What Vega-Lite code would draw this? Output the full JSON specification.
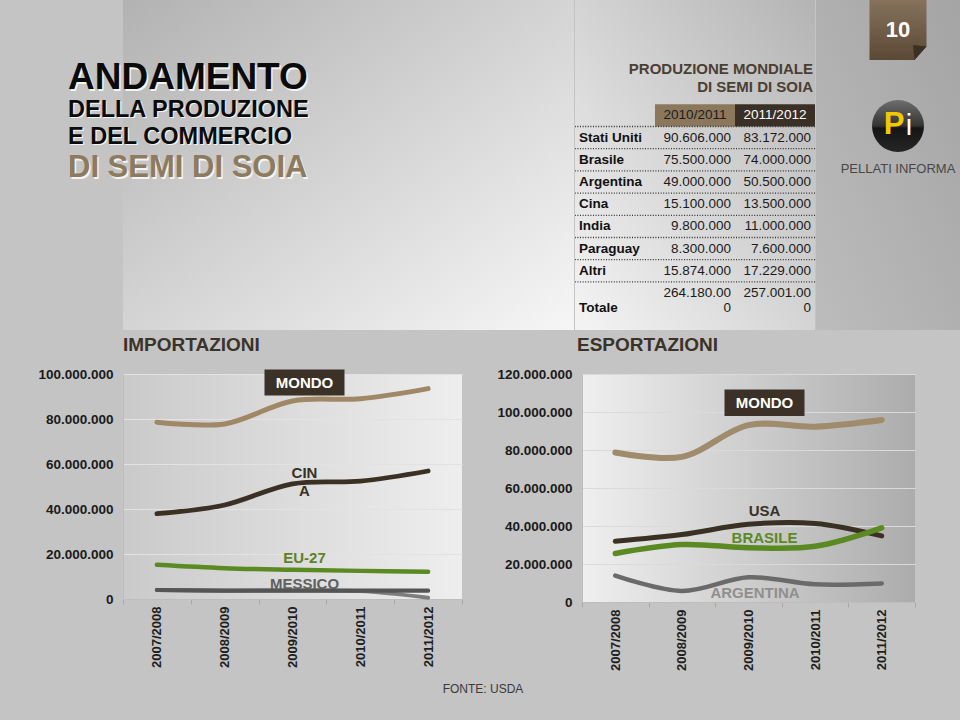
{
  "$schema": "https://vega.github.io/schema/vega-lite/v6.json",
  "background": "#c4c4c4",
  "padding": {"left": 37, "top": 0, "right": 0, "bottom": 30},
  "title": {"text": "FONTE: USDA", "orient": "bottom", "anchor": "middle", "fontSize": 12, "fontWeight": "normal", "color": "#3a3a3a", "offset": 14, "dx": -17},
  "config": {
    "font": "Liberation Sans",
    "view": {"stroke": null},
    "locale": {"number": {"decimal": ",", "thousands": ".", "grouping": [3], "currency": ["€", ""]}},
    "axis": {"labelFont": "Liberation Sans"},
    "title": {"font": "Liberation Sans"}
  },
  "datasets": {
    "titolo": [
      {"testo": "ANDAMENTO"},
      {"testo": "DELLA PRODUZIONE"},
      {"testo": "E DEL COMMERCIO"},
      {"testo": "DI SEMI DI SOIA"}
    ],
    "anni": [{"anno": "2010/2011"}, {"anno": "2011/2012"}],
    "intestazione": [{"titolo": "PRODUZIONE MONDIALE\nDI SEMI DI SOIA"}],
    "produzione": [
      {"paese": "Stati Uniti", "anno": "2010/2011", "valore": 90606000},
      {"paese": "Stati Uniti", "anno": "2011/2012", "valore": 83172000},
      {"paese": "Brasile", "anno": "2010/2011", "valore": 75500000},
      {"paese": "Brasile", "anno": "2011/2012", "valore": 74000000},
      {"paese": "Argentina", "anno": "2010/2011", "valore": 49000000},
      {"paese": "Argentina", "anno": "2011/2012", "valore": 50500000},
      {"paese": "Cina", "anno": "2010/2011", "valore": 15100000},
      {"paese": "Cina", "anno": "2011/2012", "valore": 13500000},
      {"paese": "India", "anno": "2010/2011", "valore": 9800000},
      {"paese": "India", "anno": "2011/2012", "valore": 11000000},
      {"paese": "Paraguay", "anno": "2010/2011", "valore": 8300000},
      {"paese": "Paraguay", "anno": "2011/2012", "valore": 7600000},
      {"paese": "Altri", "anno": "2010/2011", "valore": 15874000},
      {"paese": "Altri", "anno": "2011/2012", "valore": 17229000},
      {"paese": "Totale", "anno": "2010/2011", "valore": 264180000},
      {"paese": "Totale", "anno": "2011/2012", "valore": 257001000}
    ],
    "logo": [
      {"elemento": "pagina", "testo": "10"},
      {"elemento": "logo", "testo": "P"},
      {"elemento": "logo", "testo": "i"},
      {"elemento": "marchio", "testo": "PELLATI INFORMA"}
    ],
    "importazioni": [
      {"serie": "ALTRI", "anno": "2007/2008", "valore": 4000000},
      {"serie": "ALTRI", "anno": "2008/2009", "valore": 3700000},
      {"serie": "ALTRI", "anno": "2009/2010", "valore": 3800000},
      {"serie": "ALTRI", "anno": "2010/2011", "valore": 3500000},
      {"serie": "ALTRI", "anno": "2011/2012", "valore": 600000},
      {"serie": "MESSICO", "anno": "2007/2008", "valore": 4000000},
      {"serie": "MESSICO", "anno": "2008/2009", "valore": 3700000},
      {"serie": "MESSICO", "anno": "2009/2010", "valore": 3700000},
      {"serie": "MESSICO", "anno": "2010/2011", "valore": 3700000},
      {"serie": "MESSICO", "anno": "2011/2012", "valore": 3700000},
      {"serie": "EU-27", "anno": "2007/2008", "valore": 15200000},
      {"serie": "EU-27", "anno": "2008/2009", "valore": 13700000},
      {"serie": "EU-27", "anno": "2009/2010", "valore": 13000000},
      {"serie": "EU-27", "anno": "2010/2011", "valore": 12500000},
      {"serie": "EU-27", "anno": "2011/2012", "valore": 12100000},
      {"serie": "CINA", "anno": "2007/2008", "valore": 37900000},
      {"serie": "CINA", "anno": "2008/2009", "valore": 41800000},
      {"serie": "CINA", "anno": "2009/2010", "valore": 51200000},
      {"serie": "CINA", "anno": "2010/2011", "valore": 52400000},
      {"serie": "CINA", "anno": "2011/2012", "valore": 56900000},
      {"serie": "MONDO", "anno": "2007/2008", "valore": 78600000},
      {"serie": "MONDO", "anno": "2008/2009", "valore": 77800000},
      {"serie": "MONDO", "anno": "2009/2010", "valore": 88000000},
      {"serie": "MONDO", "anno": "2010/2011", "valore": 89000000},
      {"serie": "MONDO", "anno": "2011/2012", "valore": 93500000}
    ],
    "esportazioni": [
      {"serie": "ARGENTINA", "anno": "2007/2008", "valore": 13900000},
      {"serie": "ARGENTINA", "anno": "2008/2009", "valore": 5800000},
      {"serie": "ARGENTINA", "anno": "2009/2010", "valore": 13000000},
      {"serie": "ARGENTINA", "anno": "2010/2011", "valore": 9300000},
      {"serie": "ARGENTINA", "anno": "2011/2012", "valore": 9800000},
      {"serie": "USA", "anno": "2007/2008", "valore": 32000000},
      {"serie": "USA", "anno": "2008/2009", "valore": 35500000},
      {"serie": "USA", "anno": "2009/2010", "valore": 40900000},
      {"serie": "USA", "anno": "2010/2011", "valore": 41300000},
      {"serie": "USA", "anno": "2011/2012", "valore": 34800000},
      {"serie": "BRASILE", "anno": "2007/2008", "valore": 25500000},
      {"serie": "BRASILE", "anno": "2008/2009", "valore": 30200000},
      {"serie": "BRASILE", "anno": "2009/2010", "valore": 28600000},
      {"serie": "BRASILE", "anno": "2010/2011", "valore": 29300000},
      {"serie": "BRASILE", "anno": "2011/2012", "valore": 39000000},
      {"serie": "MONDO", "anno": "2007/2008", "valore": 78700000},
      {"serie": "MONDO", "anno": "2008/2009", "valore": 76400000},
      {"serie": "MONDO", "anno": "2009/2010", "valore": 93100000},
      {"serie": "MONDO", "anno": "2010/2011", "valore": 92300000},
      {"serie": "MONDO", "anno": "2011/2012", "valore": 95800000}
    ]
  },
  "columns": 1,
  "align": "none",
  "spacing": 6,
  "resolve": {"scale": {"color": "independent", "fill": "independent", "strokeWidth": "independent"}},
  "concat": [
    {
      "spacing": 0,
      "resolve": {"scale": {"color": "independent", "fill": "independent", "strokeWidth": "independent"}},
      "hconcat": [
        {
          "width": 451,
          "height": 330,
          "view": {"stroke": null, "fill": {"gradient": "linear", "x1": 0, "y1": 0, "x2": 1, "y2": 1, "stops": [{"offset": 0, "color": "#b2b2b2"}, {"offset": 1, "color": "#f6f6f6"}]}},
          "data": {"name": "titolo"},
          "encoding": {
            "x": {"datum": "titolo", "type": "nominal", "scale": {"type": "point", "range": [-55, 451], "padding": 0, "align": 0}, "axis": null},
            "y": {"field": "testo", "type": "nominal", "scale": {"type": "point", "domain": ["ANDAMENTO", "DELLA PRODUZIONE", "E DEL COMMERCIO", "DI SEMI DI SOIA"], "range": [89.3, 171.35], "padding": 0}, "axis": null},
            "text": {"field": "testo", "type": "nominal"}
          },
          "layer": [
            {"transform": [{"filter": "datum.testo === 'ANDAMENTO'"}], "mark": {"type": "text", "align": "left", "baseline": "alphabetic", "fontSize": 37, "fontWeight": "bold", "color": "#f4f4f4", "dx": 1.5, "dy": 1.5}},
            {"transform": [{"filter": "datum.testo === 'ANDAMENTO'"}], "mark": {"type": "text", "align": "left", "baseline": "alphabetic", "fontSize": 37, "fontWeight": "bold", "color": "#0b0b0b"}},
            {"transform": [{"filter": "datum.testo === 'DELLA PRODUZIONE' || datum.testo === 'E DEL COMMERCIO'"}], "mark": {"type": "text", "align": "left", "baseline": "alphabetic", "fontSize": 23.5, "fontWeight": "bold", "color": "#f4f4f4", "dx": 1.2, "dy": 1.2}},
            {"transform": [{"filter": "datum.testo === 'DELLA PRODUZIONE' || datum.testo === 'E DEL COMMERCIO'"}], "mark": {"type": "text", "align": "left", "baseline": "alphabetic", "fontSize": 23.5, "fontWeight": "bold", "color": "#0b0b0b"}},
            {"transform": [{"filter": "datum.testo === 'DI SEMI DI SOIA'"}], "mark": {"type": "text", "align": "left", "baseline": "alphabetic", "fontSize": 31, "fontWeight": "bold", "color": "#f4f4f4", "dx": 1.5, "dy": 7.5}},
            {"transform": [{"filter": "datum.testo === 'DI SEMI DI SOIA'"}], "mark": {"type": "text", "align": "left", "baseline": "alphabetic", "fontSize": 31, "fontWeight": "bold", "color": "#8d7b60", "dy": 6}}
          ]
        },
        {
          "width": 240,
          "height": 330,
          "view": {"stroke": null, "fill": {"gradient": "linear", "x1": 1, "y1": 0, "x2": 0, "y2": 1, "stops": [{"offset": 0, "color": "#b4b4b4"}, {"offset": 1, "color": "#f4f4f4"}]}},
          "layer": [
            {
              "data": {"name": "anni"},
              "mark": {"type": "rect"},
              "encoding": {
                "x": {"field": "anno", "type": "nominal", "scale": {"type": "band", "domain": ["Paese", "2010/2011", "2011/2012"], "paddingInner": 0, "paddingOuter": 0}, "axis": null},
                "y": {"datum": "intestazione", "type": "nominal", "scale": {"type": "band", "domain": ["intestazione", "Stati Uniti", "Brasile", "Argentina", "Cina", "India", "Paraguay", "Altri", "Totale"], "range": [104.3, 304.1], "paddingInner": 0, "paddingOuter": 0}, "axis": null},
                "fill": {"field": "anno", "type": "nominal", "scale": {"domain": ["2010/2011", "2011/2012"], "range": ["#8b785c", "#3a3026"]}, "legend": null}
              }
            },
            {
              "data": {"name": "anni"},
              "mark": {"type": "text", "fontSize": 13.5, "baseline": "middle"},
              "encoding": {
                "x": {"field": "anno", "type": "nominal", "scale": {"type": "band", "domain": ["Paese", "2010/2011", "2011/2012"], "paddingInner": 0, "paddingOuter": 0}, "axis": null},
                "y": {"datum": "intestazione", "type": "nominal", "scale": {"type": "band", "domain": ["intestazione", "Stati Uniti", "Brasile", "Argentina", "Cina", "India", "Paraguay", "Altri", "Totale"], "range": [104.3, 304.1], "paddingInner": 0, "paddingOuter": 0}, "axis": null},
                "text": {"field": "anno", "type": "nominal"},
                "color": {"field": "anno", "type": "nominal", "scale": {"domain": ["2010/2011", "2011/2012"], "range": ["#1c1c1c", "#ffffff"]}, "legend": null}
              }
            },
            {
              "data": {"name": "intestazione"},
              "mark": {"type": "text", "fontSize": 15, "fontWeight": "bold", "color": "#4a3f33", "align": "right", "baseline": "alphabetic", "lineBreak": "\n", "lineHeight": 17.7, "dx": -2, "dy": -30.3},
              "encoding": {
                "x": {"datum": "2011/2012", "type": "nominal", "bandPosition": 1, "scale": {"type": "band", "domain": ["Paese", "2010/2011", "2011/2012"], "paddingInner": 0, "paddingOuter": 0}, "axis": null},
                "y": {"datum": "intestazione", "type": "nominal", "bandPosition": 0, "scale": {"type": "band", "domain": ["intestazione", "Stati Uniti", "Brasile", "Argentina", "Cina", "India", "Paraguay", "Altri", "Totale"], "range": [104.3, 304.1], "paddingInner": 0, "paddingOuter": 0}, "axis": null},
                "text": {"field": "titolo", "type": "nominal"}
              }
            },
            {
              "data": {"name": "produzione"},
              "transform": [{"filter": "datum.anno === '2010/2011'"}],
              "mark": {"type": "rule", "strokeDash": [1, 1.6], "color": "#333333", "strokeWidth": 1.3},
              "encoding": {
                "y": {"field": "paese", "type": "nominal", "bandPosition": 0, "scale": {"type": "band", "domain": ["intestazione", "Stati Uniti", "Brasile", "Argentina", "Cina", "India", "Paraguay", "Altri", "Totale"], "range": [104.3, 304.1], "paddingInner": 0, "paddingOuter": 0}, "axis": null}
              }
            },
            {
              "data": {"name": "produzione"},
              "transform": [{"filter": "datum.anno === '2010/2011' && datum.paese !== 'Totale'"}],
              "mark": {"type": "text", "fontSize": 13.5, "fontWeight": "bold", "color": "#111111", "align": "left", "baseline": "middle", "dx": 4},
              "encoding": {
                "x": {"datum": "Paese", "type": "nominal", "bandPosition": 0, "scale": {"type": "band", "domain": ["Paese", "2010/2011", "2011/2012"], "paddingInner": 0, "paddingOuter": 0}, "axis": null},
                "y": {"field": "paese", "type": "nominal", "scale": {"type": "band", "domain": ["intestazione", "Stati Uniti", "Brasile", "Argentina", "Cina", "India", "Paraguay", "Altri", "Totale"], "range": [104.3, 304.1], "paddingInner": 0, "paddingOuter": 0}, "axis": null},
                "text": {"field": "paese", "type": "nominal"}
              }
            },
            {
              "data": {"name": "produzione"},
              "transform": [{"filter": "datum.paese !== 'Totale'"}],
              "mark": {"type": "text", "fontSize": 13.5, "color": "#1a1a1a", "align": "right", "baseline": "middle", "dx": -4},
              "encoding": {
                "x": {"field": "anno", "type": "nominal", "bandPosition": 1, "scale": {"type": "band", "domain": ["Paese", "2010/2011", "2011/2012"], "paddingInner": 0, "paddingOuter": 0}, "axis": null},
                "y": {"field": "paese", "type": "nominal", "scale": {"type": "band", "domain": ["intestazione", "Stati Uniti", "Brasile", "Argentina", "Cina", "India", "Paraguay", "Altri", "Totale"], "range": [104.3, 304.1], "paddingInner": 0, "paddingOuter": 0}, "axis": null},
                "text": {"field": "valore", "type": "quantitative", "format": ",d"}
              }
            },
            {
              "data": {"name": "produzione"},
              "transform": [{"filter": "datum.paese === 'Totale' && datum.anno === '2010/2011'"}],
              "mark": {"type": "text", "fontSize": 13.5, "fontWeight": "bold", "color": "#111111", "align": "left", "baseline": "alphabetic", "dx": 4, "dy": 18.8},
              "encoding": {
                "x": {"datum": "Paese", "type": "nominal", "bandPosition": 0, "scale": {"type": "band", "domain": ["Paese", "2010/2011", "2011/2012"], "paddingInner": 0, "paddingOuter": 0}, "axis": null},
                "y": {"field": "paese", "type": "nominal", "scale": {"type": "band", "domain": ["intestazione", "Stati Uniti", "Brasile", "Argentina", "Cina", "India", "Paraguay", "Altri", "Totale"], "range": [104.3, 304.1], "paddingInner": 0, "paddingOuter": 0}, "axis": null},
                "text": {"field": "paese", "type": "nominal"}
              }
            },
            {
              "data": {"name": "produzione"},
              "transform": [
                {"filter": "datum.paese === 'Totale'"},
                {"calculate": "replace(format(datum.valore, ',d'), regexp(',', 'g'), '.')", "as": "cifra"},
                {"calculate": "[substring(datum.cifra, 0, 10), substring(datum.cifra, 10)]", "as": "righe"}
              ],
              "mark": {"type": "text", "fontSize": 13.5, "color": "#1a1a1a", "align": "right", "baseline": "alphabetic", "lineHeight": 15.3, "dx": -4, "dy": 3.6},
              "encoding": {
                "x": {"field": "anno", "type": "nominal", "bandPosition": 1, "scale": {"type": "band", "domain": ["Paese", "2010/2011", "2011/2012"], "paddingInner": 0, "paddingOuter": 0}, "axis": null},
                "y": {"field": "paese", "type": "nominal", "scale": {"type": "band", "domain": ["intestazione", "Stati Uniti", "Brasile", "Argentina", "Cina", "India", "Paraguay", "Altri", "Totale"], "range": [104.3, 304.1], "paddingInner": 0, "paddingOuter": 0}, "axis": null},
                "text": {"field": "righe"}
              }
            }
          ]
        },
        {
          "width": 146,
          "height": 330,
          "view": {"stroke": null, "fill": {"gradient": "linear", "x1": 0, "y1": 1, "x2": 1, "y2": 0, "stops": [{"offset": 0, "color": "#bcbcbc"}, {"offset": 1, "color": "#a4a4a4"}]}},
          "data": {"name": "logo"},
          "encoding": {
            "x": {"datum": "logo", "type": "nominal", "scale": {"type": "point", "range": [82, 146], "padding": 0, "align": 0}, "axis": null},
            "y": {"field": "elemento", "type": "nominal", "scale": {"type": "point", "domain": ["pagina", "spazio", "logo", "marchio"], "range": [30, 174], "padding": 0}, "axis": null}
          },
          "layer": [
            {"transform": [{"filter": "datum.elemento === 'pagina'"}], "mark": {"type": "point", "shape": "M-0.95,-1H0.95V0.55L0.55,1H-0.95Z", "size": 3600, "filled": true, "opacity": 1, "strokeWidth": 0, "fill": {"gradient": "linear", "x1": 0, "y1": 0, "x2": 0, "y2": 1, "stops": [{"offset": 0, "color": "#86725b"}, {"offset": 1, "color": "#5a4936"}]}}},
            {"transform": [{"filter": "datum.elemento === 'pagina'"}], "mark": {"type": "point", "shape": "M0.95,0.55L0.55,1L0.5,0.5Z", "size": 3600, "filled": true, "opacity": 1, "strokeWidth": 0, "fill": "#3c3022"}},
            {"transform": [{"filter": "datum.elemento === 'pagina'"}], "mark": {"type": "text", "fontSize": 22, "fontWeight": "bold", "color": "#ffffff", "baseline": "middle"}, "encoding": {"text": {"field": "testo"}}},
            {"transform": [{"filter": "datum.testo === 'P'"}], "mark": {"type": "point", "shape": "circle", "size": 2704, "filled": true, "opacity": 1, "strokeWidth": 0, "fill": {"gradient": "linear", "x1": 0, "y1": 0, "x2": 0, "y2": 1, "stops": [{"offset": 0, "color": "#6e6e6e"}, {"offset": 0.5, "color": "#333333"}, {"offset": 0.54, "color": "#151515"}, {"offset": 1, "color": "#262626"}]}}},
            {"transform": [{"filter": "datum.testo === 'P'"}], "mark": {"type": "text", "fontSize": 31, "fontWeight": "bold", "color": "#f2c900", "baseline": "alphabetic", "dx": -4, "dy": 7.5}, "encoding": {"text": {"field": "testo"}}},
            {"transform": [{"filter": "datum.testo === 'i'"}], "mark": {"type": "text", "fontSize": 29, "color": "#ffffff", "baseline": "alphabetic", "dx": 11, "dy": 8.5}, "encoding": {"text": {"field": "testo"}}},
            {"transform": [{"filter": "datum.elemento === 'marchio'"}], "mark": {"type": "text", "fontSize": 13, "color": "#474747", "baseline": "middle", "dy": -5.4}, "encoding": {"text": {"field": "testo"}}}
          ]
        }
      ]
    },
    {
      "spacing": 33,
      "resolve": {"scale": {"color": "independent", "fill": "independent", "strokeWidth": "independent"}},
      "hconcat": [
        {
          "width": 339,
          "height": 225,
          "view": {"stroke": null, "fill": {"gradient": "linear", "x1": 0, "y1": 0, "x2": 1, "y2": 0, "stops": [{"offset": 0, "color": "#cacaca"}, {"offset": 1, "color": "#eeeeee"}]}},
          "title": {"text": "IMPORTAZIONI", "anchor": "start", "frame": "group", "fontSize": 19, "fontWeight": "bold", "color": "#3b3329", "offset": 12},
          "data": {"name": "importazioni"},
          "encoding": {
            "x": {"field": "anno", "type": "nominal", "scale": {"domain": ["2007/2008", "2008/2009", "2009/2010", "2010/2011", "2011/2012"], "paddingInner": 0, "paddingOuter": 0},
              "axis": {"title": null, "labelAngle": -90, "labelFontSize": 13, "labelFontWeight": "bold", "labelColor": "#1e1e1e", "labelPadding": 2, "tickBand": "extent", "tickSize": 5, "tickColor": "#a8a8a8", "domainColor": "#bdbdbd", "grid": false}},
            "y": {"field": "valore", "type": "quantitative", "scale": {"domain": [0, 100000000], "nice": false},
              "axis": {"title": null, "values": [0, 20000000, 40000000, 60000000, 80000000, 100000000], "format": ",d", "labelFontSize": 13.5, "labelFontWeight": "bold", "labelColor": "#1a1a1a", "ticks": false, "labelPadding": 10, "domainColor": "#bdbdbd", "gridColor": "#e2e2e2", "grid": true}}
          },
          "layer": [
            {"transform": [{"filter": "datum.serie === 'MESSICO' && datum.anno === '2009/2010'"}], "mark": {"type": "text", "fontSize": 15, "fontWeight": "bold", "color": "#606060", "baseline": "middle", "dx": 12, "dy": -6.7}, "encoding": {"text": {"field": "serie"}}},
            {"mark": {"type": "line", "interpolate": "catmull-rom", "strokeCap": "round", "strokeJoin": "round"},
              "encoding": {
                "color": {"field": "serie", "type": "nominal", "scale": {"domain": ["ALTRI", "MESSICO", "EU-27", "CINA", "MONDO"], "range": ["#7d7d7d", "#555555", "#5b8a22", "#3b3024", "#a08867"]}, "legend": null},
                "strokeWidth": {"field": "serie", "type": "nominal", "scale": {"domain": ["ALTRI", "MESSICO", "EU-27", "CINA", "MONDO"], "range": [4, 5, 4.5, 7, 6.5]}, "legend": null}
              }},
            {"transform": [{"filter": "datum.serie === 'MONDO' && datum.anno === '2009/2010'"}], "mark": {"type": "point", "shape": "M-1,-0.325H1V0.325H-1Z", "size": 6400, "filled": true, "opacity": 1, "strokeWidth": 0, "fill": "#3b3127", "xOffset": 12, "yOffset": -18.5}},
            {"transform": [{"filter": "datum.serie === 'MONDO' && datum.anno === '2009/2010'"}], "mark": {"type": "text", "fontSize": 15, "fontWeight": "bold", "color": "#ffffff", "baseline": "middle", "dx": 12, "dy": -18.5}, "encoding": {"text": {"field": "serie"}}},
            {"transform": [{"filter": "datum.serie === 'CINA' && datum.anno === '2009/2010'"}, {"calculate": "[substring(datum.serie, 0, 3), substring(datum.serie, 3)]", "as": "etichetta"}], "mark": {"type": "text", "fontSize": 15, "fontWeight": "bold", "color": "#3b3024", "baseline": "middle", "lineHeight": 17.7, "dx": 12, "dy": -10.5}, "encoding": {"text": {"field": "etichetta"}}},
            {"transform": [{"filter": "datum.serie === 'EU-27' && datum.anno === '2009/2010'"}], "mark": {"type": "text", "fontSize": 15, "fontWeight": "bold", "color": "#5e8226", "baseline": "middle", "dx": 12, "dy": -11.7}, "encoding": {"text": {"field": "serie"}}}
          ]
        },
        {
          "width": 333,
          "height": 228,
          "view": {"stroke": null, "fill": {"gradient": "linear", "x1": 0, "y1": 0, "x2": 1, "y2": 0, "stops": [{"offset": 0, "color": "#efefef"}, {"offset": 1, "color": "#acacac"}]}},
          "title": {"text": "ESPORTAZIONI", "anchor": "start", "frame": "group", "fontSize": 19, "fontWeight": "bold", "color": "#3b3329", "offset": 12, "dx": -5},
          "data": {"name": "esportazioni"},
          "encoding": {
            "x": {"field": "anno", "type": "nominal", "scale": {"domain": ["2007/2008", "2008/2009", "2009/2010", "2010/2011", "2011/2012"], "paddingInner": 0, "paddingOuter": 0},
              "axis": {"title": null, "labelAngle": -90, "labelFontSize": 13, "labelFontWeight": "bold", "labelColor": "#1e1e1e", "labelPadding": 2, "tickBand": "extent", "tickSize": 5, "tickColor": "#a8a8a8", "domainColor": "#bdbdbd", "grid": false}},
            "y": {"field": "valore", "type": "quantitative", "scale": {"domain": [0, 120000000], "nice": false},
              "axis": {"title": null, "values": [0, 20000000, 40000000, 60000000, 80000000, 100000000, 120000000], "format": ",d", "labelFontSize": 13.5, "labelFontWeight": "bold", "labelColor": "#1a1a1a", "ticks": false, "labelPadding": 10, "domainColor": "#bdbdbd", "gridColor": "#dadada", "grid": true}}
          },
          "layer": [
            {"transform": [{"filter": "datum.serie === 'ARGENTINA' && datum.anno === '2009/2010'"}], "mark": {"type": "text", "fontSize": 15, "fontWeight": "bold", "color": "#8f8f8f", "baseline": "middle", "dx": 6.5, "dy": 16}, "encoding": {"text": {"field": "serie"}}},
            {"mark": {"type": "line", "interpolate": "catmull-rom", "strokeCap": "round", "strokeJoin": "round"},
              "encoding": {
                "color": {"field": "serie", "type": "nominal", "scale": {"domain": ["ARGENTINA", "USA", "BRASILE", "MONDO"], "range": ["#6a6a6a", "#3b3024", "#5b8a22", "#a08b6d"]}, "legend": null},
                "strokeWidth": {"field": "serie", "type": "nominal", "scale": {"domain": ["ARGENTINA", "USA", "BRASILE", "MONDO"], "range": [4.5, 6, 6, 5]}, "legend": null}
              }},
            {"transform": [{"filter": "datum.serie === 'MONDO' && datum.anno === '2009/2010'"}], "mark": {"type": "point", "shape": "M-1,-0.33H1V0.33H-1Z", "size": 6400, "filled": true, "opacity": 1, "strokeWidth": 0, "fill": "#3b3127", "xOffset": 16, "yOffset": -22.4}},
            {"transform": [{"filter": "datum.serie === 'MONDO' && datum.anno === '2009/2010'"}], "mark": {"type": "text", "fontSize": 15, "fontWeight": "bold", "color": "#ffffff", "baseline": "middle", "dx": 16, "dy": -22.4}, "encoding": {"text": {"field": "serie"}}},
            {"transform": [{"filter": "datum.serie === 'USA' && datum.anno === '2009/2010'"}], "mark": {"type": "text", "fontSize": 15, "fontWeight": "bold", "color": "#3b3024", "baseline": "middle", "dx": 16, "dy": -13.6}, "encoding": {"text": {"field": "serie"}}},
            {"transform": [{"filter": "datum.serie === 'BRASILE' && datum.anno === '2009/2010'"}], "mark": {"type": "text", "fontSize": 15, "fontWeight": "bold", "color": "#5b8a22", "baseline": "middle", "dx": 16, "dy": -9.4}, "encoding": {"text": {"field": "serie"}}}
          ]
        }
      ]
    }
  ]
}
